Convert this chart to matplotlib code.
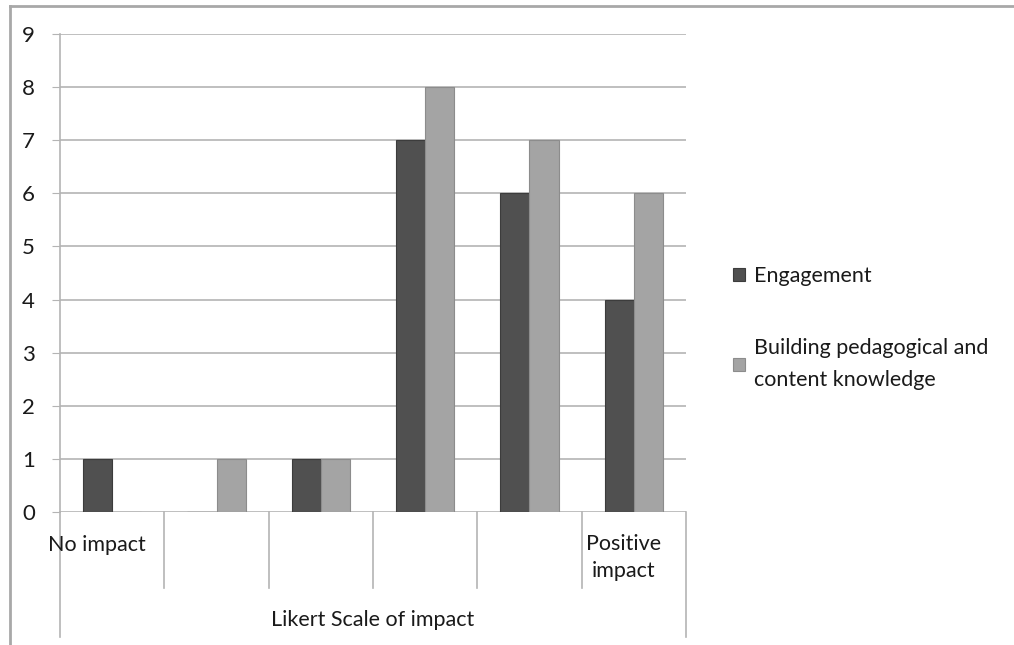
import matplotlib.pyplot as plt
from matplotlib.lines import Line2D
import numpy as np

plt.rcParams['font.family'] = ['Lato', 'DejaVu Sans']

categories = ["No impact", "", "", "", "", "Positive\nimpact"]
engagement = [1, 0, 1, 7, 6, 4]
building = [0, 1, 1, 8, 7, 6]
names = ["Engagement", "Building pedagogical and\ncontent knowledge"]
axis_title = "Likert Scale of impact"

W, H = 1014, 645
fig = plt.figure(figsize=(W / 100, H / 100), dpi=100)
ax = fig.add_axes([60 / W, (H - 512) / H, 626 / W, (512 - 34) / H])

x = np.arange(len(categories))
bw = 0.28
ax.bar(x - bw / 2, engagement, bw, color='#505050', edgecolor='#3c3c3c', linewidth=0.8, label=names[0], zorder=3)
ax.bar(x + bw / 2, building, bw, color='#a4a4a4', edgecolor='#8c8c8c', linewidth=0.8, label=names[1], zorder=3)

ax.set_xlim(-0.5, len(categories) - 0.5)
ax.set_ylim(0, 9)
ax.set_yticks(range(0, 10))
ax.yaxis.grid(True, color='#b4b4b4', linewidth=1.2, zorder=0)
ax.tick_params(axis='y', length=6, color='#b4b4b4', labelsize=16, labelcolor='#1a1a1a', pad=12)
ax.set_xticks([])
for s in ['top', 'right', 'bottom']:
    ax.spines[s].set_visible(False)
ax.spines['left'].set_color('#b4b4b4')
ax.spines['left'].set_linewidth(1.2)

# category boxes below the axis
tr = ax.get_xaxis_transform()
for b in np.arange(0.5, len(categories) - 1, 1):
    ax.plot([b, b], [0, -0.159], color='#b4b4b4', lw=1.2, transform=tr, clip_on=False)
for b in [-0.5, len(categories) - 0.5]:
    ax.plot([b, b], [0, -0.2615], color='#b4b4b4', lw=1.2, transform=tr, clip_on=False)

ax.text(-0.615, -0.07, categories[0], transform=tr, ha='left', va='center', fontsize=15.5, color='#1a1a1a')
ax.text(4.9, -0.095, categories[5], transform=tr, ha='center', va='center', fontsize=15.5,
        color='#1a1a1a', linespacing=1.45)
ax.text(2.5, -0.226, axis_title, transform=tr, ha='center', va='center', fontsize=15.5, color='#1a1a1a')

leg = ax.legend(loc='center left', bbox_to_anchor=(714 / W, (H - 328) / H), bbox_transform=fig.transFigure,
                frameon=False, fontsize=15.5, handlelength=0.55, handleheight=0.55, handletextpad=0.4,
                labelspacing=2.4)
for t in leg.get_texts():
    t.set_color('#1a1a1a')
    t.set_linespacing(1.75)

# outer chart border
fig.add_artist(Line2D([10 / W, 10 / W], [0, 1 - 6 / H], color='#a8a8a8', lw=2))
fig.add_artist(Line2D([10 / W, 1], [1 - 6 / H, 1 - 6 / H], color='#a8a8a8', lw=2))

fig.savefig('out.png', dpi=100)
